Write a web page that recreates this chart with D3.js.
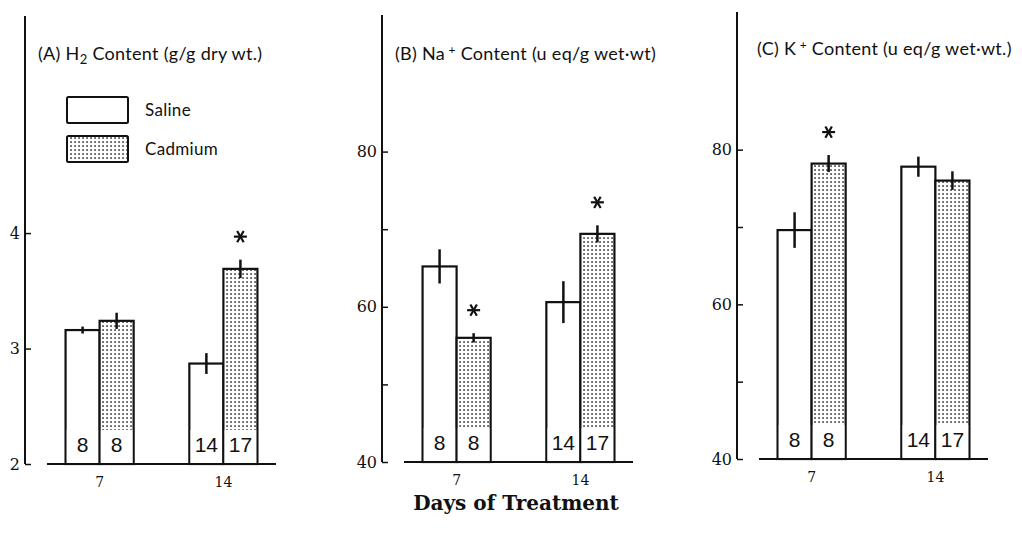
<!DOCTYPE html>
<html>
<head>
<meta charset="utf-8">
<script src="https://cdn.jsdelivr.net/npm/d3@7"></script>
<style>
  body { margin: 0; background: #fff; }
  svg { display: block; }
</style>
</head>
<body>
<div id="chart"></div>
<script>
// data
var days = ["7", "14"];
var groups = ["Saline", "Cadmium"];

// panel A: water content (g/g dry wt.)
var waterMean = [[3.16, 3.24], [2.87, 3.69]];
var waterErr = [[0.03, 0.07], [0.09, 0.08]];
// panel B: Na+ content (u eq/g wet wt)
var sodiumMean = [[65.2, 56.0], [60.6, 69.4]];
var sodiumErr = [[2.2, 0.6], [2.7, 1.1]];
// panel C: K+ content (u eq/g wet wt.)
var potassiumMean = [[69.6, 78.2], [77.8, 76.0]];
var potassiumErr = [[2.3, 1.1], [1.3, 1.2]];

var nCounts = [[8, 8], [14, 17]];
var signif = [[[false, false], [false, true]],
              [[false, true], [false, true]],
              [[false, true], [false, false]]];

var yTicksA = [2, 3, 4], yLabelsA = [2, 3, 4];
var yTicksBC = [40, 50, 60, 70, 80], yLabelsBC = [40, 60, 80];

var width = 1022, height = 551;

var svg = d3.select("#chart").append("svg")
    .attr("width", width)
    .attr("height", height);

// dotted fill for the cadmium bars
var defs = svg.append("defs");
var pat = defs.append("pattern")
    .attr("id", "dots")
    .attr("patternUnits", "userSpaceOnUse")
    .attr("width", 4)
    .attr("height", 4);
pat.append("rect").attr("width", 4).attr("height", 4).attr("fill", "#fff");
pat.append("rect").attr("x", 1.3).attr("y", 1.3).attr("width", 1.5).attr("height", 1.5).attr("fill", "#111");

var panels = [
    { x: 25, base: 464, top: 16, domain: [2, 5.88], mean: waterMean, err: waterErr,
      ticks: yTicksA, labels: yLabelsA, titleX: 13, titleY: 60 },
    { x: 382, base: 462, top: 15, domain: [40, 97.6], mean: sodiumMean, err: sodiumErr,
      ticks: yTicksBC, labels: yLabelsBC, titleX: 13, titleY: 60 },
    { x: 737, base: 459, top: 12, domain: [40, 97.8], mean: potassiumMean, err: potassiumErr,
      ticks: yTicksBC, labels: yLabelsBC, titleX: 20, titleY: 55 }
];

var titles = [
    function(t) {
        t.append("tspan").text("(A) H");
        t.append("tspan").attr("dy", 4).style("font-size", "13px").text("2");
        t.append("tspan").attr("dy", -4).text(" Content (g/g  dry wt.)");
    },
    function(t) {
        t.append("tspan").text("(B) Na");
        t.append("tspan").attr("dy", -6).style("font-size", "12px").text(" +");
        t.append("tspan").attr("dy", 6).text("  Content (u eq/g wet\u00b7wt)");
    },
    function(t) {
        t.append("tspan").text("(C) K");
        t.append("tspan").attr("dy", -6).style("font-size", "12px").text(" +");
        t.append("tspan").attr("dy", 6).text("  Content (u eq/g wet\u00b7wt.)");
    }
];

panels.forEach(function(p, pi) {
    var g = svg.append("g").attr("transform", "translate(" + p.x + ",0)");

    var y = d3.scaleLinear().domain(p.domain).range([p.base, p.top]);

    var x0 = d3.scaleBand().domain(days).range([22, 251])
        .paddingInner(0.45).paddingOuter(0.15);
    var x1 = d3.scaleBand().domain(groups).range([0, x0.bandwidth()]);

    // y axis: ticks inward, labels outside
    var yAxis = g.append("g")
        .call(d3.axisRight(y).tickValues(p.ticks).tickSize(6)
            .tickFormat(function(d) { return p.labels.indexOf(d) >= 0 ? d : ""; }));
    yAxis.select(".domain").remove();
    yAxis.selectAll(".tick line").attr("stroke", "#111").attr("stroke-width", 1.5);
    yAxis.selectAll(".tick text")
        .attr("x", -5)
        .attr("text-anchor", "end")
        .style("font-family", "DejaVu Serif")
        .style("font-size", "16px")
        .attr("fill", "#111");
    g.append("line")
        .attr("x1", 0).attr("x2", 0)
        .attr("y1", y.range()[1]).attr("y2", y.range()[0])
        .attr("stroke", "#111").attr("stroke-width", 2);

    // baseline
    g.append("line")
        .attr("x1", x0.range()[0]).attr("x2", x0.range()[1])
        .attr("y1", p.base).attr("y2", p.base)
        .attr("stroke", "#111").attr("stroke-width", 2);

    // x labels
    g.selectAll(".xlab").data(days).enter().append("text")
        .attr("x", function(d) { return x0(d) + x0.bandwidth() / 2; })
        .attr("y", p.base + 23)
        .attr("text-anchor", "middle")
        .style("font-family", "DejaVu Serif")
        .style("font-size", "14px")
        .attr("fill", "#111")
        .text(function(d) { return d; });

    // title
    var t = g.append("text")
        .attr("x", p.titleX).attr("y", p.titleY)
        .style("font-family", "Lato")
        .style("font-size", "18px")
        .style("letter-spacing", "0.3px")
        .attr("fill", "#111");
    titles[pi](t);

    days.forEach(function(day, di) {
        groups.forEach(function(grp, gi) {
            var m = p.mean[di][gi], e = p.err[di][gi];
            var bx = x0(day) + x1(grp), bw = x1.bandwidth();
            g.append("rect")
                .attr("x", bx).attr("y", y(m))
                .attr("width", bw).attr("height", p.base - y(m))
                .attr("fill", gi === 1 ? "url(#dots)" : "#fff")
                .attr("stroke", "#111").attr("stroke-width", 2.2);
            // clear band at the bottom for the n label
            g.append("rect")
                .attr("x", bx + 1.2).attr("y", p.base - 34)
                .attr("width", bw - 2.4).attr("height", 33)
                .attr("fill", "#fff");
            g.append("text")
                .attr("x", bx + bw / 2).attr("y", p.base - 12)
                .attr("text-anchor", "middle")
                .style("font-family", "Liberation Sans")
                .style("font-size", "21px")
                .attr("fill", "#111")
                .text(nCounts[di][gi]);
            // error bar
            g.append("line")
                .attr("x1", bx + bw / 2).attr("x2", bx + bw / 2)
                .attr("y1", y(m - e)).attr("y2", y(m + e))
                .attr("stroke", "#111").attr("stroke-width", 2.5);
            if (signif[pi][di][gi]) {
                var cx = bx + bw / 2, cy = y(m + e) - 23, r = 6.5;
                [0, 60, 120].forEach(function(a) {
                    var rad = a * Math.PI / 180;
                    g.append("line")
                        .attr("x1", cx - r * Math.cos(rad)).attr("y1", cy - r * Math.sin(rad))
                        .attr("x2", cx + r * Math.cos(rad)).attr("y2", cy + r * Math.sin(rad))
                        .attr("stroke", "#111").attr("stroke-width", 2.2);
                });
            }
        });
    });

    // legend only in panel A
    if (pi === 0) {
        var leg = g.append("g");
        groups.forEach(function(grp, gi) {
            leg.append("rect")
                .attr("x", 42).attr("y", 97 + gi * 39)
                .attr("width", 61).attr("height", 26)
                .attr("rx", 1.5)
                .attr("fill", gi === 1 ? "url(#dots)" : "#fff")
                .attr("stroke", "#111").attr("stroke-width", 2);
            leg.append("text")
                .attr("x", 120).attr("y", 116 + gi * 39)
                .style("font-family", "Lato")
                .style("font-size", "17px")
                .style("letter-spacing", "0.3px")
                .attr("fill", "#111")
                .text(grp);
        });
    }
});

svg.append("text")
    .attr("x", 516).attr("y", 510)
    .attr("text-anchor", "middle")
    .style("font-family", "DejaVu Serif")
    .style("font-weight", "bold")
    .style("font-size", "20px")
    .attr("fill", "#111")
    .text("Days of Treatment");
</script>
</body>
</html>
